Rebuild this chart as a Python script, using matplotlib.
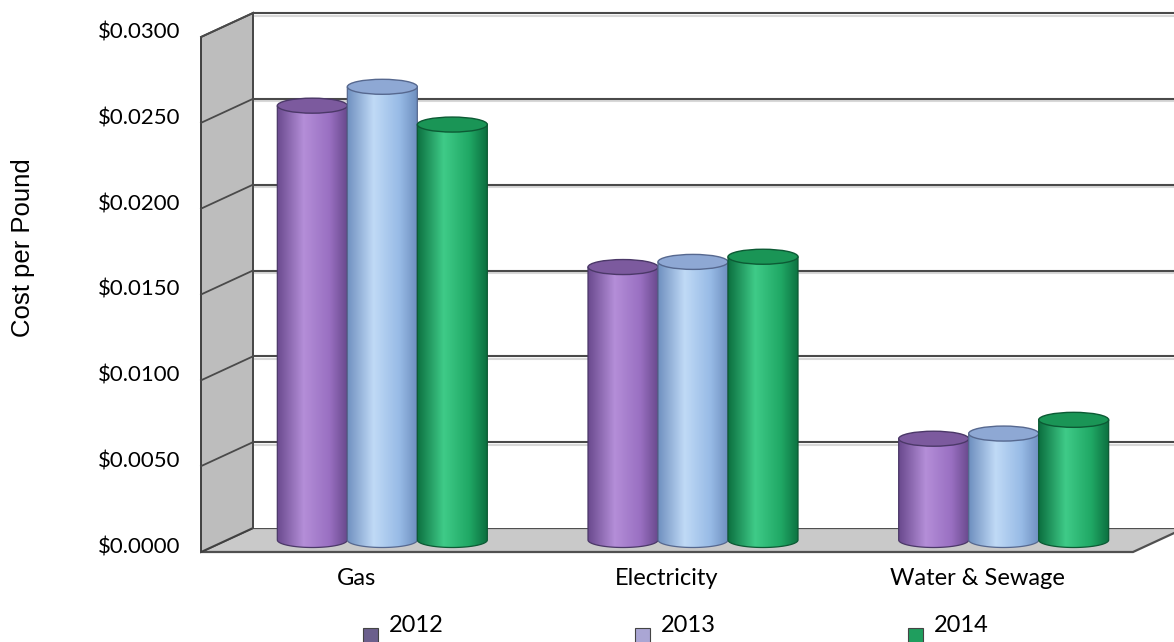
import numpy as np
import matplotlib
matplotlib.use("Agg")
import matplotlib.pyplot as plt
from matplotlib.patches import Polygon, Ellipse, Rectangle
from matplotlib.colors import LinearSegmentedColormap

categories = ["Gas", "Electricity", "Water & Sewage"]
years = ["2012", "2013", "2014"]
cost_2012 = [0.0253, 0.0159, 0.0059]
cost_2013 = [0.0264, 0.0162, 0.0062]
cost_2014 = [0.0242, 0.0165, 0.0070]
y_ticks = [0.0, 0.005, 0.010, 0.015, 0.020, 0.025, 0.030]

# per series: side edge, highlight, body, top cap, outline
shades = {
    "2012": ("#6a4a8e", "#b48ed8", "#9a70c2", "#7c5a9e", "#4b3868"),
    "2013": ("#6f90c0", "#c0daf6", "#98bbe6", "#8ea8d4", "#56688f"),
    "2014": ("#0c7040", "#3fcb88", "#20a865", "#1a9556", "#0c5a34"),
}
legend_colors = ["#6b5f8c", "#aaa6d4", "#1f9e5e"]

W, H = 1174, 642
fig = plt.figure(figsize=(W / 100, H / 100), dpi=100)
ax = fig.add_axes([0, 0, 1, 1])
ax.set_axis_off()

# mid-depth plane: categories -0.5..2.5 over px 227..1159, values 0..0.03 over px 540..25
x_left_px, x_right_px = 227, 1159
y0_px, ytop_px = 540, 25
ymax = 0.03
sx = 3 / (x_right_px - x_left_px)
sy = ymax / (y0_px - ytop_px)
xL, xR = -0.5, 2.5
dx, dy = 26 * sx, 12 * sy      # half depth of the box

grid_c = "#4a4a4a"
font = "Lato"

# floor
ax.add_patch(Polygon([(xL - dx, -dy), (xR - dx, -dy), (xR + dx, dy), (xL + dx, dy)],
                     closed=True, facecolor="#c9c9c9", edgecolor="#505050", lw=1.6, zorder=1))
# back wall
ax.add_patch(Rectangle((xL + dx, dy), xR - xL + 1, ymax, facecolor="white",
                       edgecolor="none", zorder=1))
# left wall
ax.add_patch(Polygon([(xL - dx, -dy), (xL - dx, ymax - dy), (xL + dx, ymax + dy), (xL + dx, dy)],
                     closed=True, facecolor="#bdbdbd", edgecolor="#404040", lw=1.4, zorder=1))

# gridlines on back and left walls
for v in y_ticks[1:]:
    ax.plot([xL + dx, xR + dx + 1], [v + dy - 2.5 * sy] * 2, color="#d8d8d8", lw=1.5, zorder=1.4)
    ax.plot([xL + dx, xR + dx + 1], [v + dy] * 2, color=grid_c, lw=1.5, zorder=1.5)
    ax.plot([xL - dx, xL + dx], [v - dy, v + dy], color=grid_c, lw=1.3, zorder=1.5)
ax.plot([xL + dx, xL + dx], [dy, ymax + dy], color=grid_c, lw=1.4, zorder=1.5)

# cylinders
bar_w = 70 * sx
cap_h = 15 * sy
offsets = [-bar_w, 0.0, bar_w]
series = [cost_2012, cost_2013, cost_2014]
t = np.linspace(0, np.pi, 60)
for j, (year, vals) in enumerate(zip(years, series)):
    edge, hi, body, top, line = shades[year]
    cmap = LinearSegmentedColormap.from_list(
        year, [(0, edge), (0.38, hi), (0.75, body), (1, edge)])
    grad = cmap(np.linspace(0, 1, 128))[None, :, :]
    z = 3 + j * 0.1
    for i, v in enumerate(vals):
        xc = i + offsets[j]
        x0, x1 = xc - bar_w / 2, xc + bar_w / 2
        arc = list(zip(xc + bar_w / 2 * np.cos(t), -cap_h / 2 * np.sin(t)))
        shape = Polygon([(x0, v), (x1, v)] + arc, closed=True, facecolor="none",
                        edgecolor=line, lw=0.9, zorder=z + 0.01)
        ax.add_patch(shape)
        im = ax.imshow(grad, extent=[x0, x1, -cap_h / 2, v], aspect="auto",
                       interpolation="bilinear", zorder=z)
        im.set_clip_path(shape)
        ax.add_patch(Ellipse((xc, v), bar_w, cap_h, facecolor=top, edgecolor=line,
                             lw=1.0, zorder=z + 0.02))

# value labels along the front edge of the left wall
for v in y_ticks:
    ax.text(xL - dx - 21 * sx, v - dy - 1.5 * sy, f"${v:.4f}", ha="right", va="baseline",
            fontsize=16, family=font, color="black")

# category labels under the front edge of the floor
for i, cat in enumerate(categories):
    ax.text(i - dx, (y0_px - 585) * sy, cat, ha="center", va="baseline",
            fontsize=17, family=font, color="black")

ax.set_xlim(xL - x_left_px * sx, xL + (W - x_left_px) * sx)
ax.set_ylim(-(H - y0_px) * sy, y0_px * sy)

fig.text(23 / W, 1 - 337 / H, "Cost per Pound", rotation=90, ha="center", va="bottom",
         fontsize=18.5, family="Liberation Sans")

# legend
for k, (year, col) in enumerate(zip(years, legend_colors)):
    sq_x = [363, 635, 908][k]
    fig.add_artist(Rectangle((sq_x / W, 1 - 644 / H), 15 / W, 16 / H, transform=fig.transFigure,
                             facecolor=col, edgecolor="#444444", lw=0.8))
    fig.text((sq_x + 26) / W, 1 - 632 / H, year, ha="left", va="baseline",
             fontsize=17, family=font)

fig.savefig("out.png", dpi=100)
